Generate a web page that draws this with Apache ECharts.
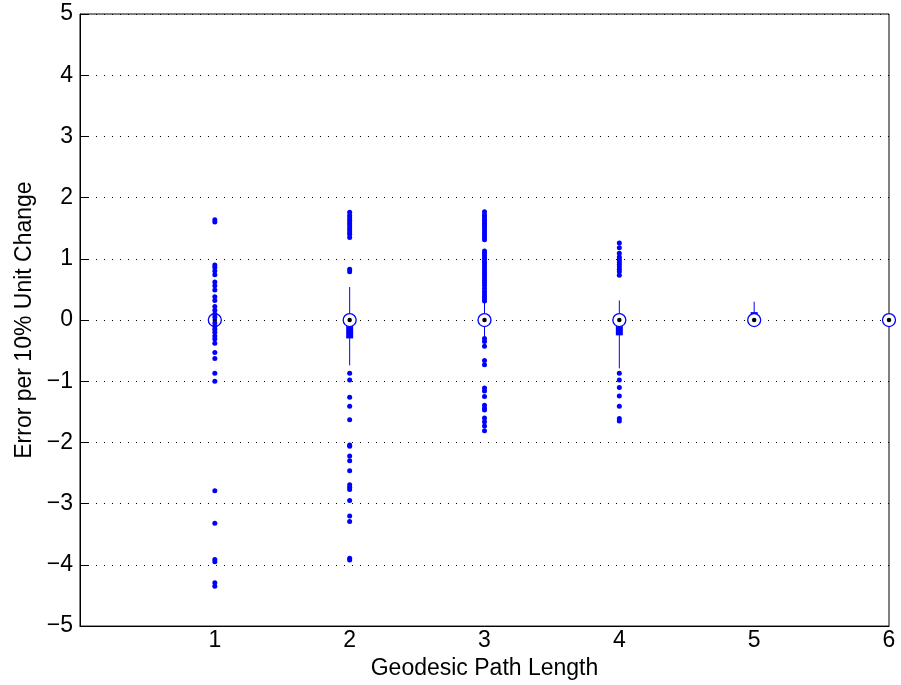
<!DOCTYPE html>
<html>
<head>
<meta charset="utf-8">
<script src="https://cdn.jsdelivr.net/npm/echarts@6/dist/echarts.min.js"></script>
<style>
html,body{margin:0;padding:0;background:#fff;}
#chart{width:901px;height:685px;}
</style>
</head>
<body>
<div id="chart"></div>
<script>
// ---- data ----
var positions = [1, 2, 3, 4, 5, 6];
var whiskerLow = [0, -0.74, -0.26, -0.79, 0, 0];
var q1 = [0, -0.30, 0, -0.25, 0, 0];
var medians = [0, 0, 0, 0, 0, 0];
var q3 = [0, 0, 0, 0.06, 0.13, 0];
var whiskerHigh = [0, 0.54, 0.30, 0.32, 0.30, 0];

var outliers1 = [1.64, 1.60, 0.90, 0.86, 0.80, 0.74, 0.62, 0.56, 0.49, 0.38, 0.32, 0.22, 0.16, 0.10, 0.05,
  -0.05, -0.10, -0.15, -0.20, -0.26, -0.31, -0.38, -0.53, -0.63, -0.87, -1.00, -2.79, -3.32, -3.91, -3.95, -4.29, -4.35];
var outliers2 = [1.76, 1.71, 1.67, 1.63, 1.59, 1.56, 1.52, 1.48, 1.44, 1.40, 1.35, 0.83, 0.79,
  -0.87, -0.98, -1.26, -1.41, -1.63, -2.04, -2.06, -2.22, -2.30, -2.46, -2.69, -2.73, -2.77, -2.95, -3.20, -3.29, -3.89, -3.92];
var outliers3 = [1.77, 1.72, 1.69, 1.65, 1.62, 1.58, 1.55, 1.51, 1.47, 1.43, 1.39, 1.35, 1.31,
  1.13, 1.09, 1.05, 1.01, 0.97, 0.93, 0.89, 0.85, 0.81, 0.77, 0.73, 0.69, 0.65, 0.61, 0.57, 0.52, 0.47, 0.43, 0.39, 0.35, 0.31,
  -0.30, -0.35, -0.43, -0.66, -0.73, -1.11, -1.16, -1.25, -1.39, -1.44, -1.47, -1.60, -1.66, -1.73, -1.81];
var outliers4 = [1.26, 1.18, 1.09, 1.03, 0.99, 0.95, 0.91, 0.87, 0.83, 0.79, 0.73,
  -0.87, -0.98, -1.10, -1.24, -1.41, -1.61, -1.65];
var outliers5 = [];
var outliers6 = [];

var yTicks = [-5, -4, -3, -2, -1, 0, 1, 2, 3, 4, 5];
var xTickLabels = ['1', '2', '3', '4', '5', '6'];
var xTitle = 'Geodesic Path Length';
var yTitle = 'Error per 10% Unit Change';

// ---- build ----
var BLUE = '#0000ff';
var FONT = 'Liberation Sans, Arial, Helvetica, sans-serif';
var allOutliers = [outliers1, outliers2, outliers3, outliers4, outliers5, outliers6];
var outlierData = [];
allOutliers.forEach(function (arr, i) {
  arr.forEach(function (v) { outlierData.push([positions[i], v]); });
});
var boxData = positions.map(function (p, i) {
  return [p, whiskerLow[i], q1[i], q3[i], whiskerHigh[i]];
});
var medianData = positions.map(function (p, i) { return [p, medians[i]]; });

var chart = echarts.init(document.getElementById('chart'), null, {renderer: 'canvas'});
chart.setOption({
  animation: false,
  backgroundColor: '#fff',
  grid: {left: 80, right: 12, top: 14, bottom: 57, show: true, borderColor: '#000', borderWidth: 1, backgroundColor: 'transparent'},
  xAxis: {
    type: 'value', min: 0, max: 6, interval: 1,
    name: xTitle, nameLocation: 'middle', nameGap: 23,
    nameTextStyle: {fontFamily: FONT, fontSize: 23, color: '#000', verticalAlign: 'top'},
    axisLine: {show: true, onZero: false, lineStyle: {color: '#000', width: 1}},
    axisTick: {show: false},
    splitLine: {show: false},
    axisLabel: {
      fontFamily: FONT, fontSize: 23, color: '#000', margin: 3,
      formatter: function (v) { var i = positions.indexOf(v); return i >= 0 ? xTickLabels[i] : ''; }
    }
  },
  yAxis: {
    type: 'value', min: -5, max: 5, interval: 1,
    name: yTitle, nameLocation: 'middle', nameGap: 42, nameRotate: 90,
    nameTextStyle: {fontFamily: FONT, fontSize: 23, color: '#000'},
    axisLine: {show: true, onZero: false, lineStyle: {color: '#000', width: 1}},
    axisTick: {show: true, inside: true, length: 8, lineStyle: {color: '#000'}},
    splitLine: {show: true, lineStyle: {color: '#000', width: 1, type: [1, 7]}},
    axisLabel: {
      fontFamily: FONT, fontSize: 23, color: '#000', margin: 7,
      formatter: function (v) { return yTicks.indexOf(v) >= 0 ? String(v).replace('-', '\u2212') : ''; }
    }
  },
  series: [
    {
      type: 'custom',
      z: 2,
      data: boxData,
      renderItem: function (params, api) {
        var x = api.value(0);
        var lo = api.coord([x, api.value(1)]);
        var b1 = api.coord([x, api.value(2)]);
        var b2 = api.coord([x, api.value(3)]);
        var hi = api.coord([x, api.value(4)]);
        var children = [];
        if (lo[1] !== hi[1]) {
          children.push({type: 'line', shape: {x1: lo[0], y1: lo[1], x2: hi[0], y2: hi[1]},
            style: {stroke: BLUE, lineWidth: 1}});
        }
        if (b1[1] !== b2[1]) {
          children.push({type: 'line', shape: {x1: b1[0], y1: b1[1], x2: b2[0], y2: b2[1]},
            style: {stroke: BLUE, lineWidth: 7}});
        }
        return {type: 'group', children: children};
      }
    },
    {
      type: 'scatter', z: 3, data: medianData, symbol: 'circle', symbolSize: 13,
      itemStyle: {color: '#fff', borderColor: BLUE, borderWidth: 1.3, opacity: 1}
    },
    {
      type: 'scatter', z: 4, data: medianData, symbol: 'circle', symbolSize: 4.5,
      itemStyle: {color: '#000', opacity: 1}
    },
    {
      type: 'scatter', z: 5, data: outlierData, symbol: 'circle', symbolSize: 5,
      itemStyle: {color: BLUE, opacity: 1}
    }
  ]
});
</script>
</body>
</html>
